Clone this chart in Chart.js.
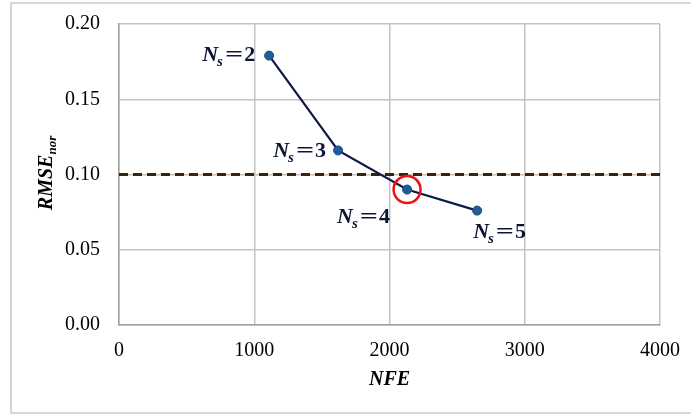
<!DOCTYPE html>
<html>
<head>
<meta charset="utf-8">
<script src="https://cdn.jsdelivr.net/npm/chart.js@4/dist/chart.umd.min.js"></script>
<style>
  html, body { margin: 0; padding: 0; background: #fff; }
  #wrap { width: 691px; height: 416px; position: relative; }
</style>
</head>
<body>
<div id="wrap"><canvas id="chart" width="691" height="416"></canvas></div>
<script>
// ---- data ----
const nfe = [1110, 1620, 2130, 2648];
const rmseNor = [0.179, 0.116, 0.090, 0.076];
const nsValues = [2, 3, 4, 5];
const thresholdX = [0, 4000];
const thresholdY = [0.10, 0.10];
const highlightIndex = 2; // Ns=4 circled

const xTicks = [0, 1000, 2000, 3000, 4000];
const yTicks = [0.00, 0.05, 0.10, 0.15, 0.20];

// label placement relative to each point (px): [dx, dy, align]
const labelPlacement = [
  [-14, 0, "right"],
  [-12, 1, "right"],
  [-70, 28, "left"],
  [-4, 22, "left"]
];

const SERIF = "'Liberation Serif', 'Times New Roman', serif";
const LABEL_COLOR = "#0b1433";

// draws "N" + subscript "s" + "=k"
function drawNsLabel(ctx, x, y, k, align) {
  const big = "bold italic 22px " + SERIF;
  const sub = "bold italic 15px " + SERIF;
  const eq = "bold 22px " + SERIF;
  const eqStretch = 1.45;
  ctx.font = big; const wN = ctx.measureText("N").width;
  ctx.font = sub; const wS = ctx.measureText("s").width;
  ctx.font = eq;
  const wEq = ctx.measureText("=").width * eqStretch;
  const wK = ctx.measureText(String(k)).width;
  const total = wN + wS + 1 + wEq + 1 + wK;
  const x0 = align === "right" ? x - total : x;
  ctx.fillStyle = LABEL_COLOR;
  ctx.textBaseline = "middle";
  ctx.textAlign = "left";
  ctx.font = big; ctx.fillText("N", x0, y);
  ctx.font = sub; ctx.fillText("s", x0 + wN - 1, y + 7);
  ctx.font = eq;
  const xe = x0 + wN + wS + 1;
  ctx.save();
  ctx.translate(xe, y);
  ctx.scale(eqStretch, 1);
  ctx.fillText("=", 0, 0);
  ctx.restore();
  ctx.fillText(String(k), xe + wEq + 1, y);
}

const decorPlugin = {
  id: "decor",
  beforeDraw(chart) {
    const ctx = chart.ctx;
    ctx.save();
    ctx.fillStyle = "#fff";
    ctx.fillRect(0, 0, chart.width, chart.height);
    ctx.strokeStyle = "#d6d6d6";
    ctx.lineWidth = 2;
    ctx.strokeRect(11, 3, 700, 410);
    ctx.restore();
  },
  afterDatasetsDraw(chart) {
    const ctx = chart.ctx;
    const xs = chart.scales.x, ys = chart.scales.y;
    ctx.save();
    nsValues.forEach((k, i) => {
      const px = xs.getPixelForValue(nfe[i]);
      const py = ys.getPixelForValue(rmseNor[i]);
      const p = labelPlacement[i];
      drawNsLabel(ctx, px + p[0], py + p[1], k, p[2]);
    });
    // axis titles
    const area = chart.chartArea;
    ctx.fillStyle = "#000";
    ctx.textAlign = "center";
    ctx.textBaseline = "middle";
    ctx.font = "bold italic 20px " + SERIF;
    ctx.fillText("NFE", (area.left + area.right) / 2, 380);

    ctx.translate(47, 173);
    ctx.rotate(-Math.PI / 2);
    ctx.font = "bold italic 20px " + SERIF;
    const w1 = ctx.measureText("RMSE").width;
    ctx.font = "bold italic 13px " + SERIF;
    const w2 = ctx.measureText("nor").width;
    const start = -(w1 + w2) / 2;
    ctx.textAlign = "left";
    ctx.font = "bold italic 20px " + SERIF;
    ctx.fillText("RMSE", start, 0);
    ctx.font = "bold italic 13px " + SERIF;
    ctx.fillText("nor", start + w1, 6);
    ctx.restore();
  }
};

new Chart(document.getElementById("chart"), {
  type: "scatter",
  data: {
    datasets: [
      {
        label: "threshold",
        data: thresholdX.map((x, i) => ({ x, y: thresholdY[i] })),
        showLine: true,
        borderColor: "#3d2208",
        borderWidth: 2.8,
        borderDash: [9, 5],
        pointRadius: 0,
        order: 3
      },
      {
        label: "RMSE",
        data: nfe.map((x, i) => ({ x, y: rmseNor[i] })),
        showLine: true,
        borderColor: "#0e1a45",
        borderWidth: 2.2,
        pointRadius: 4.5,
        pointBackgroundColor: "#1f5c99",
        pointBorderColor: "#174a80",
        pointBorderWidth: 1,
        order: 2
      },
      {
        label: "highlight",
        data: [{ x: nfe[highlightIndex], y: rmseNor[highlightIndex] }],
        pointRadius: 13.5,
        pointBackgroundColor: "rgba(0,0,0,0)",
        pointBorderColor: "#ee1111",
        pointBorderWidth: 2.5,
        order: 1
      }
    ]
  },
  options: {
    responsive: false,
    animation: false,
    events: [],
    layout: { padding: { left: 0, right: 31, top: 24, bottom: 0 } },
    plugins: { legend: { display: false }, tooltip: { enabled: false } },
    scales: {
      x: {
        type: "linear",
        min: xTicks[0],
        max: xTicks[xTicks.length - 1],
        afterBuildTicks: s => { s.ticks = xTicks.map(v => ({ value: v })); },
        afterFit: s => { s.height = 91; s.paddingLeft = 0; s.paddingRight = 0; },
        grid: { color: "#c4c4c4", lineWidth: 1.5, drawTicks: false },
        border: { color: "#a0a0a0", width: 1.5 },
        ticks: {
          padding: 14,
          color: "#000",
          font: { family: SERIF, size: 20 },
          callback: v => String(v)
        }
      },
      y: {
        type: "linear",
        min: yTicks[0],
        max: yTicks[yTicks.length - 1],
        afterBuildTicks: s => { s.ticks = yTicks.map(v => ({ value: v })); },
        afterFit: s => { s.width = 119; s.paddingTop = 0; s.paddingBottom = 0; },
        grid: { color: "#c4c4c4", lineWidth: 1.5, drawTicks: false },
        border: { color: "#a0a0a0", width: 1.5 },
        ticks: {
          padding: 19,
          color: "#000",
          font: { family: SERIF, size: 20 },
          callback: v => v.toFixed(2)
        }
      }
    }
  },
  plugins: [decorPlugin]
});
</script>
</body>
</html>
